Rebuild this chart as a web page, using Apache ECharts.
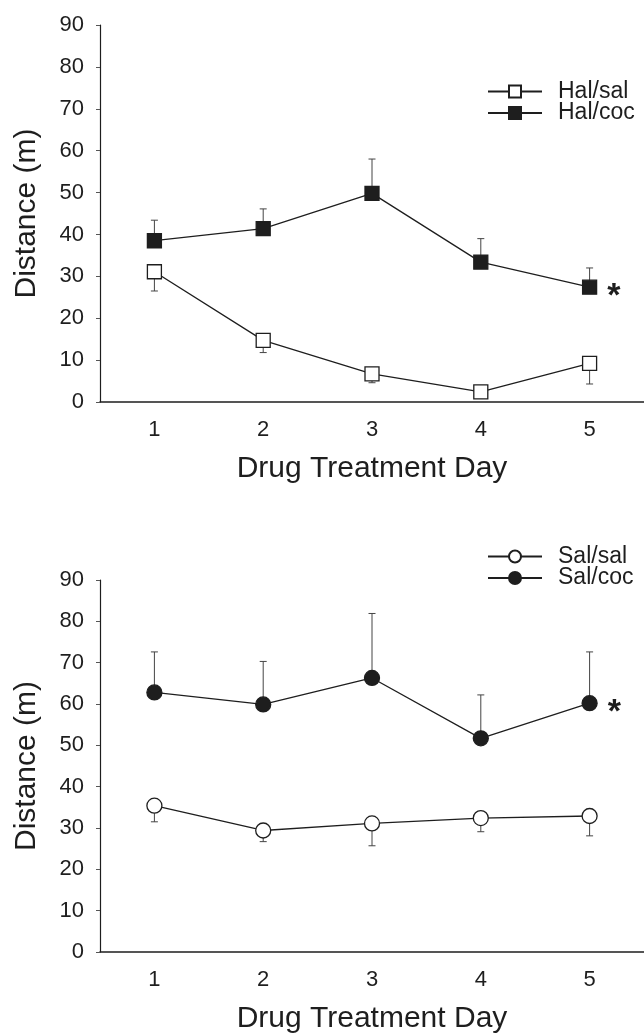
<!DOCTYPE html>
<html>
<head>
<meta charset="utf-8">
<script src="https://cdn.jsdelivr.net/npm/echarts@6/dist/echarts.min.js"></script>
<style>
  html, body { margin: 0; padding: 0; background: #fff; }
  #chart { width: 644px; height: 1036px; }
</style>
</head>
<body>
<div id="chart"></div>
<script>
// Treatment days (x categories)
const days = ['1', '2', '3', '4', '5'];
const yTicks = [0, 10, 20, 30, 40, 50, 60, 70, 80, 90];

// Upper panel: haloperidol pretreatment
const halSal = [31.1, 14.7, 6.7, 2.4, 9.2];
const halSalErr = [4.6, 2.9, 2.1, 1.5, 4.9];      // drawn downward
const halCoc = [38.5, 41.4, 49.8, 33.4, 27.4];
const halCocErr = [4.9, 4.7, 8.2, 5.6, 4.6];      // drawn upward

// Lower panel: saline pretreatment
const salSal = [35.4, 29.4, 31.1, 32.4, 32.9];
const salSalErr = [3.9, 2.7, 5.4, 3.3, 4.8];      // drawn downward
const salCoc = [62.8, 59.9, 66.3, 51.7, 60.2];
const salCocErr = [9.8, 10.4, 15.6, 10.5, 12.4];  // drawn upward

// Day whose cocaine group is marked as significant
const sigDay = '5';

const FONT = '"Liberation Sans", Arial, sans-serif';
const INK = '#1e1e1e';

function errorBarRender(dir) {
  return function (params, api) {
    const i = api.value(0);
    const v = api.value(1);
    const e = api.value(2);
    const p0 = api.coord([i, v]);
    const p1 = api.coord([i, v + dir * e]);
    const w = 3.5;
    const st = { stroke: '#444', lineWidth: 1 };
    return {
      type: 'group',
      children: [
        { type: 'line', shape: { x1: p0[0], y1: p0[1], x2: p1[0], y2: p1[1] }, style: st },
        { type: 'line', shape: { x1: p1[0] - w, y1: p1[1], x2: p1[0] + w, y2: p1[1] }, style: st }
      ]
    };
  };
}

function errSeries(vals, errs, dir, axisIdx) {
  return {
    type: 'custom',
    xAxisIndex: axisIdx,
    yAxisIndex: axisIdx,
    renderItem: errorBarRender(dir),
    data: vals.map((v, i) => [i, v, errs[i]]),
    encode: { x: 0, y: 1 },
    z: 1,
    silent: true
  };
}

function lineData(vals, withStar) {
  return vals.map((v, i) => {
    if (withStar && days[i] === sigDay) {
      return {
        value: v,
        label: {
          show: true,
          formatter: '*',
          position: 'right',
          distance: 10,
          offset: [0, 9],
          fontSize: 34,
          fontWeight: 'bold',
          color: INK,
          fontFamily: FONT
        }
      };
    }
    return v;
  });
}

function lineSeries(name, vals, symbol, filled, size, axisIdx, withStar) {
  return {
    name: name,
    type: 'line',
    xAxisIndex: axisIdx,
    yAxisIndex: axisIdx,
    data: lineData(vals, withStar),
    symbol: symbol,
    symbolSize: size,
    showAllSymbol: true,
    lineStyle: { color: INK, width: 1.3 },
    itemStyle: { color: filled ? INK : '#fff', borderColor: INK, borderWidth: 1.3, opacity: 1 },
    z: 3,
    animation: false
  };
}

function xAxis(gridIdx) {
  return {
    type: 'category',
    gridIndex: gridIdx,
    data: days,
    boundaryGap: true,
    name: 'Drug Treatment Day',
    nameLocation: 'middle',
    nameGap: 52,
    nameTextStyle: { fontSize: 30, color: INK, fontFamily: FONT },
    axisLine: { lineStyle: { color: INK, width: 1.5 } },
    axisTick: { alignWithLabel: true, length: 4, lineStyle: { color: '#555' } },
    axisLabel: { fontSize: 22, color: INK, margin: 17, fontFamily: FONT },
    splitLine: { show: false }
  };
}

function yAxis(gridIdx) {
  return {
    type: 'value',
    gridIndex: gridIdx,
    min: yTicks[0],
    max: yTicks[yTicks.length - 1],
    interval: yTicks[1] - yTicks[0],
    name: 'Distance (m)',
    nameLocation: 'middle',
    nameGap: 58,
    nameTextStyle: { fontSize: 30, color: INK, fontFamily: FONT },
    axisLine: { show: true, lineStyle: { color: INK, width: 1.2 } },
    axisTick: { show: true, length: 4, lineStyle: { color: '#555' } },
    axisLabel: { fontSize: 22, color: INK, margin: 16, fontFamily: FONT },
    splitLine: { show: false }
  };
}

function legend(names, left, top) {
  return {
    data: names,
    orient: 'vertical',
    left: left,
    top: top,
    padding: 0,
    itemWidth: 54,
    itemHeight: 15,
    itemGap: -1.5,
    textStyle: { fontSize: 23, color: INK, fontFamily: FONT, padding: [0, 0, 0, 11] },
    selectedMode: false
  };
}

const chart = echarts.init(document.getElementById('chart'), null, { renderer: 'canvas' });
chart.setOption({
  backgroundColor: '#fff',
  animation: false,
  grid: [
    { left: 100, right: 0, top: 25, height: 377 },
    { left: 100, right: 0, top: 580, height: 372 }
  ],
  legend: [
    legend(['Hal/sal', 'Hal/coc'], 487, 80),
    legend(['Sal/sal', 'Sal/coc'], 487, 545)
  ],
  xAxis: [xAxis(0), xAxis(1)],
  yAxis: [yAxis(0), yAxis(1)],
  series: [
    errSeries(halSal, halSalErr, -1, 0),
    errSeries(halCoc, halCocErr, 1, 0),
    lineSeries('Hal/sal', halSal, 'rect', false, 14, 0, false),
    lineSeries('Hal/coc', halCoc, 'rect', true, 14, 0, true),
    errSeries(salSal, salSalErr, -1, 1),
    errSeries(salCoc, salCocErr, 1, 1),
    lineSeries('Sal/sal', salSal, 'circle', false, 15, 1, false),
    lineSeries('Sal/coc', salCoc, 'circle', true, 15, 1, true)
  ]
});
</script>
</body>
</html>
